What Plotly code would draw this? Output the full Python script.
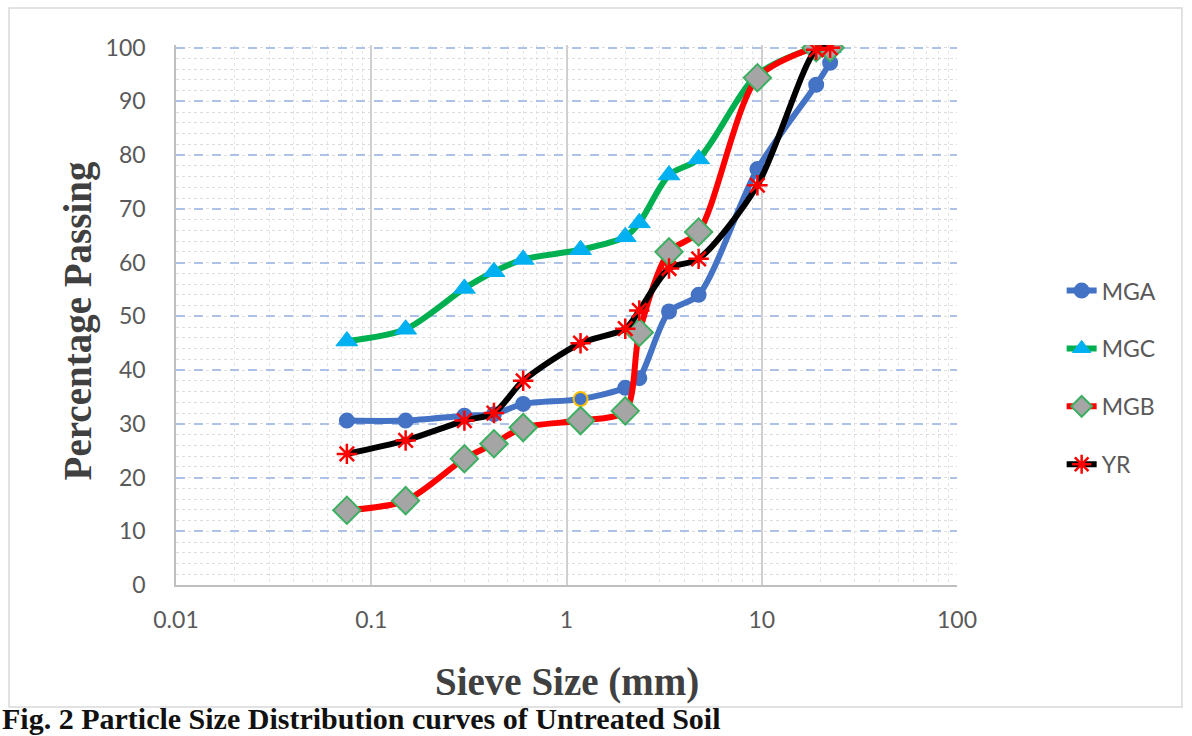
import plotly.graph_objects as go

# Sieve openings (mm) and percentage passing for each soil sample
sieve_mm = [0.075, 0.15, 0.3, 0.425, 0.6, 1.18, 2.0, 2.36, 3.35, 4.75, 9.5, 19.0, 22.4]

mga = [30.6, 30.6, 31.5, 31.8, 33.7, 34.6, 36.7, 38.5, 50.9, 54.0, 77.4, 93.1, 97.2]
mgc = [45.4, 47.6, 55.2, 58.3, 60.6, 62.4, 64.8, 67.4, 76.3, 79.3, 95.0, 100.0, 100.0]
mgb = [13.9, 15.7, 23.5, 26.3, 29.3, 30.6, 32.4, 47.0, 62.0, 65.7, 94.4, 100.0, 100.0]
yr = [24.4, 26.9, 30.6, 32.0, 38.0, 45.0, 47.7, 51.1, 58.9, 60.7, 74.4, 99.6, 100.0]

x_ticks = [0.01, 0.1, 1, 10, 100]
x_tick_labels = ["0.01", "0.1", "1", "10", "100"]
y_ticks = list(range(0, 101, 10))

tick_font = dict(family="Lato, Open Sans, sans-serif", size=23, color="#595959")
title_font = dict(family="Liberation Serif, Times New Roman, serif", size=39, color="#404040")

fig = go.Figure()

mga_outline = ["#4472C4"] * len(mga)
mga_outline[5] = "#FFC000"

fig.add_trace(go.Scatter(
    x=sieve_mm, y=mga, name="MGA", legendgroup="a",
    mode="lines+markers",
    line=dict(color="#4472C4", width=6, shape="spline", smoothing=0.8),
    marker=dict(symbol="circle", size=14, color="#4472C4",
                line=dict(color=mga_outline, width=2)),
))
fig.add_trace(go.Scatter(
    x=sieve_mm, y=mgc, name="MGC", legendgroup="b",
    mode="lines+markers",
    line=dict(color="#00B050", width=6, shape="spline", smoothing=0.8),
    marker=dict(symbol="triangle-up", size=19, color="#00B0F0",
                line=dict(color="#00B0F0", width=1)),
))
fig.add_trace(go.Scatter(
    x=sieve_mm, y=mgb, name="MGB", legendgroup="c",
    mode="lines+markers",
    line=dict(color="#FF0000", width=6, shape="spline", smoothing=0.8),
    marker=dict(symbol="diamond", size=21, color="#A5A5A5",
                line=dict(color="#3CB060", width=2)),
))
fig.add_trace(go.Scatter(
    x=sieve_mm, y=yr, name="YR", legendgroup="d",
    mode="lines+markers",
    line=dict(color="#000000", width=6, shape="spline", smoothing=0.8),
    marker=dict(symbol="asterisk-open", size=17, color="#FF0000",
                line=dict(color="#FF0000", width=2.5)),
))

fig.update_xaxes(
    type="log", range=[-2, 2],
    tickvals=x_ticks, ticktext=x_tick_labels,
    tickfont=tick_font,
    showline=True, linecolor="#BFBFBF", linewidth=1.5,
    showgrid=True, gridcolor="#D0D0D0", gridwidth=1.5,
    ticks="outside", ticklen=14, tickcolor="rgba(0,0,0,0)",
    minor=dict(dtick="D1", showgrid=True, gridcolor="#E4E4E4", griddash="dot", gridwidth=1),
    zeroline=False,
)
fig.update_yaxes(
    range=[0, 100.5],
    tickvals=y_ticks,
    tickfont=tick_font,
    showline=True, linecolor="#BFBFBF", linewidth=1.5,
    showgrid=True, gridcolor="#ADC2E6", gridwidth=2, griddash="dash",
    ticks="outside", ticklen=24, tickcolor="rgba(0,0,0,0)",
    minor=dict(dtick=2, showgrid=True, gridcolor="#DCDCDC", griddash="dot", gridwidth=1),
    zeroline=False,
)

fig.update_layout(
    width=1192, height=736,
    margin=dict(l=176, r=235, t=45, b=151),
    paper_bgcolor="white", plot_bgcolor="white",
    showlegend=True,
    legend=dict(
        x=1.134, y=0.585, xanchor="left", yanchor="top",
        font=dict(family="Lato, Open Sans, sans-serif", size=23, color="#595959"),
        tracegroupgap=25, bgcolor="rgba(0,0,0,0)",
    ),
    annotations=[
        dict(text="<b>Percentage Passing</b>", xref="paper", yref="paper",
             x=-0.1255, y=0.49, textangle=-90, showarrow=False,
             xanchor="center", yanchor="middle", font=title_font),
        dict(text="<b>Sieve Size (mm)</b>", xref="paper", yref="paper",
             x=0.5, y=-0.18, showarrow=False,
             xanchor="center", yanchor="middle", font=title_font),
        dict(text="<b>Fig. 2 Particle Size Distribution curves of Untreated Soil</b>",
             xref="paper", yref="paper", x=-0.2254, y=-0.2815, showarrow=False,
             xanchor="left", yanchor="bottom",
             font=dict(family="Liberation Serif, Times New Roman, serif", size=30, color="#111111")),
    ],
    shapes=[
        dict(type="rect", xref="paper", yref="paper",
             x0=-0.2138, x1=1.288, y0=-0.226, y1=1.0685,
             line=dict(color="#D9D9D9", width=1.5), fillcolor="rgba(0,0,0,0)", layer="below"),
    ],
)

fig.write_html("out.html")
